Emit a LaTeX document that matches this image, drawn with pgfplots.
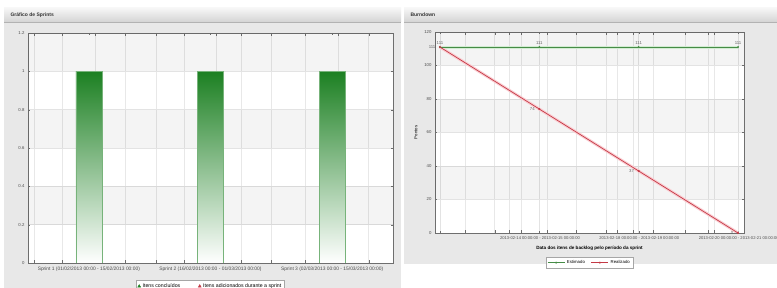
\documentclass[border=0pt]{standalone}
\usepackage{pgfplots}
\pgfplotsset{compat=1.18}
\usepackage{fontspec}
\setmainfont{Liberation Sans}
\definecolor{panelbg}{RGB}{232,232,232}
\definecolor{titletop}{RGB}{246,246,246}
\definecolor{titlebot}{RGB}{212,212,212}
\definecolor{barg}{RGB}{28,128,34}
\definecolor{lineg}{RGB}{70,140,70}
\definecolor{liner}{RGB}{196,58,70}
\definecolor{halor}{RGB}{250,205,210}
\definecolor{halog}{RGB}{210,236,210}
\definecolor{frame}{RGB}{110,110,110}
\tikzset{tinyfont/.style={font=\fontsize{4.3}{5}\selectfont}}
\tikzset{smallfont/.style={font=\fontsize{4.9}{5.5}\selectfont}}
\begin{document}
\begin{tikzpicture}
\useasboundingbox (0pt,0pt) rectangle (777pt,-288pt);
\fill[white] (0pt,0pt) rectangle (777pt,-288pt);
% left panel
\fill[panelbg] (4pt,-8pt) rectangle (401pt,-288pt);
\shade[top color=titletop,bottom color=titlebot] (4pt,-8pt) rectangle (401pt,-22pt);
\draw[gray!60] (4pt,-22pt) -- (401pt,-22pt);
\node[anchor=west,font=\fontsize{5}{6}\selectfont\bfseries,text=black!80] at (7pt,-15pt) {Gráfico de Sprints};
% right panel
\fill[panelbg] (404pt,-8pt) rectangle (777pt,-264pt);
\shade[top color=titletop,bottom color=titlebot] (404pt,-8pt) rectangle (777pt,-22pt);
\draw[gray!60] (404pt,-22pt) -- (777pt,-22pt);
\node[anchor=west,font=\fontsize{5}{6}\selectfont\bfseries,text=black!80] at (407pt,-15pt) {Burndown};

\begin{axis}[
  at={(28pt,-263pt)}, anchor=south west, scale only axis,
  width=365pt, height=230pt,
  axis background/.style={fill=white},
  xmin=-0.5, xmax=2.5, ymin=0, ymax=1.2,
  xtick={0,1,2},
  xticklabels={Sprint 1 (01/02/2013 00:00 - 15/02/2013 00:00),Sprint 2 (16/02/2013 00:00 - 01/03/2013 00:00),Sprint 3 (02/03/2013 00:00 - 15/03/2013 00:00)},
  xticklabel style={smallfont},
  ytick={0,0.2,0.4,0.6,0.8,1,1.2},
  yticklabel style={/pgf/number format/fixed, tinyfont},
  /pgf/number format/assume math mode=true,
  tick label style={text=black!70},
  minor xtick={-0.45,-0.22,0.05,0.3,0.55,0.78,1.05,1.25,1.5,1.78,2.05,2.3},
  xminorgrids, ymajorgrids,
  minor grid style={gray!18},
  major grid style={gray!22},
  axis line style={frame, line width=0.8pt},
  tick style={frame},
  major tick length=2pt,
  legend style={at={(0.5,-0.075)}, anchor=north, legend columns=2, font=\fontsize{5.2}{6}\selectfont,
    draw=gray!70, fill=white, inner sep=1.2pt, /tikz/every even column/.append style={column sep=16pt}},
]
\addplot[fill=black, fill opacity=0.045, draw=none, forget plot] coordinates {(-0.5,1.0) (2.5,1.0) (2.5,1.2) (-0.5,1.2)};
\addplot[fill=black, fill opacity=0.045, draw=none, forget plot] coordinates {(-0.5,0.6) (2.5,0.6) (2.5,0.8) (-0.5,0.8)};
\addplot[fill=black, fill opacity=0.045, draw=none, forget plot] coordinates {(-0.5,0.2) (2.5,0.2) (2.5,0.4) (-0.5,0.4)};
% bars (value 1 each), width 0.214 category units
\addplot[draw=barg!60!white, top color=barg, bottom color=white, forget plot] coordinates {(-0.107,0) (-0.107,1) (0.107,1) (0.107,0)} -- cycle;
\addplot[draw=barg!60!white, top color=barg, bottom color=white, forget plot] coordinates {(0.893,0) (0.893,1) (1.107,1) (1.107,0)} -- cycle;
\addplot[draw=barg!60!white, top color=barg, bottom color=white, forget plot] coordinates {(1.893,0) (1.893,1) (2.107,1) (2.107,0)} -- cycle;
\addlegendimage{only marks, mark=triangle*, mark size=1.7pt, mark options={fill=barg, draw=barg}}
\addlegendentry{Itens concluídos}
\addlegendimage{only marks, mark=triangle*, mark size=1.7pt, mark options={fill=liner, draw=liner}}
\addlegendentry{Itens adicionados durante a sprint}
\end{axis}

\begin{axis}[
  at={(435pt,-233pt)}, anchor=south west, scale only axis,
  width=309pt, height=201pt,
  axis background/.style={fill=white},
  xmin=-0.05, xmax=3.06, ymin=0, ymax=120,
  xtick={0,1,2,3},
  xticklabels={2013-02-14 00:00:00 - 2013-02-15 00:00:00,2013-02-18 00:00:00 - 2013-02-19 00:00:00,2013-02-20 00:00:00 - 2013-02-21 00:00:00,2013-02-22 00:00:00 - 2013-02-23 00:00:00},
  xticklabel style={xshift=100pt, font=\fontsize{4.1}{5}\selectfont},
  ytick={0,20,...,120},
  /pgf/number format/assume math mode=true,
  tick label style={tinyfont, text=black!70},
  minor xtick={0.25,0.55,0.7,0.82,1.08,1.37,1.67,1.78,1.94,2.15,2.47,2.7,2.76},
  xminorgrids, ymajorgrids, xmajorgrids,
  minor grid style={gray!18},
  major grid style={gray!22},
  axis line style={frame, line width=0.8pt},
  tick style={frame},
  major tick length=2pt,
  xlabel={Data dos itens de backlog pelo período da sprint},
  xlabel style={at={(axis description cs:0.5,-0.075)}, anchor=center, font=\fontsize{4.6}{5}\selectfont\bfseries},
  ylabel={Pontos},
  ylabel style={at={(axis description cs:-0.062,0.5)}, anchor=center, tinyfont},
  legend style={at={(0.5,-0.12)}, anchor=north, legend columns=2, tinyfont,
    draw=gray!70, fill=white, inner sep=1pt, /tikz/every even column/.append style={column sep=4pt}},
]
\addplot[fill=black, fill opacity=0.045, draw=none, forget plot] coordinates {(-0.05,100) (3.06,100) (3.06,120) (-0.05,120)};
\addplot[fill=black, fill opacity=0.045, draw=none, forget plot] coordinates {(-0.05,60) (3.06,60) (3.06,80) (-0.05,80)};
\addplot[fill=black, fill opacity=0.045, draw=none, forget plot] coordinates {(-0.05,20) (3.06,20) (3.06,40) (-0.05,40)};
\addplot[halog, line width=3pt, forget plot] coordinates {(0,111) (1,111) (2,111) (3,111)};
\addplot[halor, line width=3pt, forget plot] coordinates {(0,111) (1,74) (2,37) (3,0)};
\addplot[lineg, line width=0.7pt, mark=*, mark size=0.6pt,
  nodes near coords, every node near coord/.append style={tinyfont, text=black!60, anchor=south, yshift=-1pt}]
  coordinates {(0,111) (1,111) (2,111) (3,111)};
\addlegendentry{Estimado}
\addplot[liner, line width=0.7pt, mark=*, mark size=0.6pt,
  nodes near coords, every node near coord/.append style={tinyfont, text=black!60, anchor=east, xshift=-1pt}]
  coordinates {(0,111) (1,74) (2,37) (3,0)};
\addlegendentry{Realizado}
\end{axis}
\end{tikzpicture}
\end{document}
